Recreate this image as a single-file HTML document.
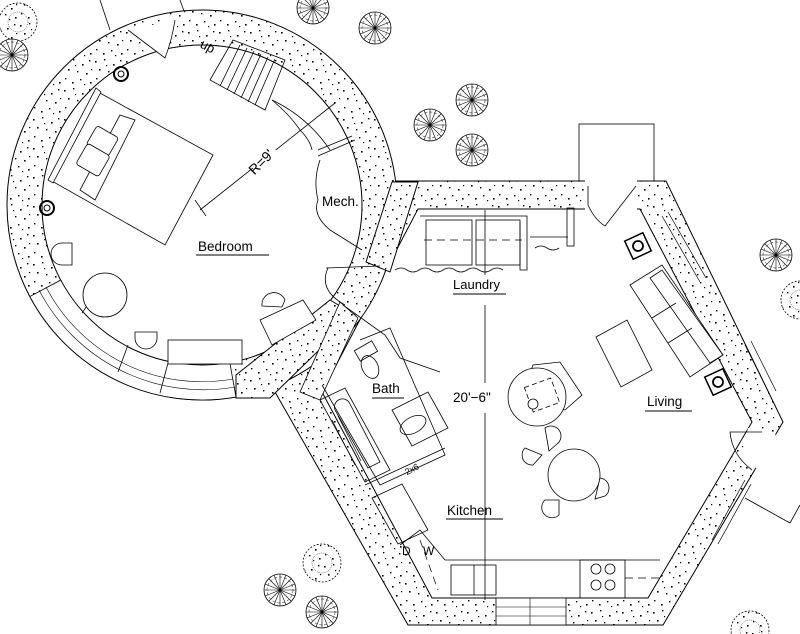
<!DOCTYPE html>
<html><head><meta charset="utf-8"><style>
html,body{margin:0;padding:0;background:#fff;}
svg{display:block;}
text{font-family:"Liberation Sans",sans-serif;fill:#000;}
</style></head><body>
<svg width="800" height="634" viewBox="0 0 800 634" xmlns="http://www.w3.org/2000/svg">
<defs>
<pattern id="d" width="31" height="29" patternUnits="userSpaceOnUse">
<rect width="31" height="29" fill="#fff"/>
<g fill="#000">
<rect x="2" y="3" width="1.6" height="1.6"/><rect x="11" y="1" width="1.4" height="1.4"/><rect x="20" y="6" width="1.6" height="1.6"/>
<rect x="27" y="2" width="1.4" height="1.4"/><rect x="6" y="11" width="1.6" height="1.6"/><rect x="15" y="13" width="1.4" height="1.4"/>
<rect x="24" y="15" width="1.6" height="1.6"/><rect x="3" y="20" width="1.4" height="1.4"/><rect x="10" y="24" width="1.6" height="1.6"/>
<rect x="18" y="21" width="1.4" height="1.4"/><rect x="28" y="24" width="1.6" height="1.6"/><rect x="13" y="7" width="1.2" height="1.2"/>
<rect x="22" y="26" width="1.2" height="1.2"/><rect x="29" y="11" width="1.2" height="1.2"/>
</g></pattern>
<g id="tree"><circle r="16" fill="#fff" stroke="#000" stroke-width="0.8"/><g stroke="#000" stroke-width="0.6">
<line x1="-16" y1="0" x2="16" y2="0"/><line x1="0" y1="-16" x2="0" y2="16"/><line x1="-11" y1="-11" x2="11" y2="11"/><line x1="-11" y1="11" x2="11" y2="-11"/>
<line x1="-6" y1="-15" x2="6" y2="15"/><line x1="-15" y1="-6" x2="15" y2="6"/><line x1="-15" y1="6" x2="15" y2="-6"/><line x1="-6" y1="15" x2="6" y2="-15"/></g>
<circle r="13" fill="none" stroke="#000" stroke-width="0.5" stroke-dasharray="3 2"/></g>
<g id="bush"><circle r="19" fill="url(#d)" stroke="#000" stroke-width="0.8" stroke-dasharray="2 1.5"/><circle r="10" fill="url(#d)" stroke="#000" stroke-width="0.5" stroke-dasharray="1 1"/></g>
</defs>

<g stroke="#000" stroke-width="0.8" fill="none">
<line x1="100" y1="0" x2="110" y2="30"/><line x1="180" y1="0" x2="185" y2="14"/>
<rect x="579" y="124" width="75" height="57"/>
<line x1="745" y1="498" x2="790" y2="523"/><line x1="790" y1="523" x2="800" y2="505"/>
</g>

<use href="#bush" x="18" y="22"/><use href="#tree" x="12" y="55"/>
<use href="#tree" x="313" y="8"/><use href="#tree" x="375" y="28"/>
<use href="#tree" x="472" y="100"/><use href="#tree" x="430" y="125"/><use href="#tree" x="472" y="150"/>
<use href="#tree" x="776" y="255"/><use href="#bush" x="800" y="300"/>
<use href="#bush" x="322" y="563"/><use href="#tree" x="280" y="590"/><use href="#tree" x="322" y="612"/>
<use href="#bush" x="750" y="630"/>

<!-- hexagon walls -->
<polygon points="380,181 666,181 783,422 663,625 408,625 275,392" fill="url(#d)" stroke="#000" stroke-width="1"/>
<polygon points="418,209 640,209 752,422 648,598 432,598 322,392" fill="#fff" stroke="#000" stroke-width="1"/>
<g stroke="#000" stroke-width="0.7" fill="none">
<line x1="662" y1="216" x2="700" y2="282"/><line x1="668" y1="212" x2="706" y2="278"/>
<line x1="745" y1="345" x2="770" y2="395"/><line x1="751" y1="341" x2="776" y2="391"/>
<line x1="712" y1="540" x2="745" y2="480"/><line x1="718" y1="544" x2="751" y2="484"/>
<line x1="332" y1="420" x2="355" y2="465"/><line x1="338" y1="416" x2="361" y2="461"/>
</g>
<g fill="#fff" stroke="#000" stroke-width="0.8">
<rect x="496" y="598" width="70" height="27"/>
</g>
<g stroke="#000" stroke-width="0.6">
<line x1="496" y1="607" x2="566" y2="607"/><line x1="496" y1="616" x2="566" y2="616"/><line x1="530" y1="598" x2="530" y2="625"/>
</g>
<rect x="585" y="180" width="52" height="30" fill="#fff"/>
<path d="M588,186 L588,205 Q595,220 605,226" fill="none" stroke="#000" stroke-width="0.8"/>
<line x1="605" y1="226" x2="636" y2="186" stroke="#000" stroke-width="0.8"/>
<polygon points="748,428 775,432 778,455 760,470 740,460" fill="#fff"/>
<path d="M762,432 L730,432 Q732,455 752,470" fill="none" stroke="#000" stroke-width="0.8"/>

<!-- circle ring -->
<circle cx="202" cy="205" r="195" fill="url(#d)" stroke="#000" stroke-width="1"/>
<circle cx="202" cy="205" r="160" fill="#fff" stroke="#000" stroke-width="1"/>
<path d="M236,397 A195,195 0 0 1 29.8,296.5 L60.7,280.1 A160,160 0 0 0 229.8,362.6 Z" fill="#fff" stroke="#000" stroke-width="0.8"/>
<path d="M235,387 A185,185 0 0 1 39,290" fill="none" stroke="#000" stroke-width="0.6"/>
<path d="M233,379 A176,176 0 0 1 46,287" fill="none" stroke="#000" stroke-width="0.6"/>
<g stroke="#000" stroke-width="0.8"><line x1="82" y1="313" x2="98" y2="290"/><line x1="160" y1="393" x2="168" y2="363"/><line x1="118" y1="372" x2="128" y2="345"/></g>
<path d="M128,30 L165,58 Q172,40 175,20" fill="#fff" stroke="#000" stroke-width="0.8"/>

<polygon points="330,300 355,315 270,398 236,398 236,375" fill="url(#d)" stroke="#000" stroke-width="1"/>
<polygon points="340,302 358,318 320,400 300,392" fill="url(#d)" stroke="#000" stroke-width="0.8"/>
<polygon points="392,182 418,182 390,272 366,262" fill="url(#d)" stroke="#000" stroke-width="1"/>

<g fill="none" stroke="#000" stroke-width="0.8">
<path d="M318,150 L352,136 M318,156 L355,140 M320,160 Q313,180 318,200 Q312,215 330,230 L362,250"/>
<path d="M272,100 Q290,115 300,130 Q310,140 312,150"/>
<path d="M326,268 L380,266"/>
</g>

<g fill="none" stroke="#000" stroke-width="0.8">
<polygon points="233,40 285,60 265,110 210,80"/>
<line x1="240" y1="45" x2="220" y2="86"/><line x1="247" y1="48" x2="227" y2="90"/><line x1="254" y1="51" x2="234" y2="94"/>
<line x1="261" y1="54" x2="241" y2="98"/><line x1="268" y1="57" x2="248" y2="102"/><line x1="275" y1="59" x2="255" y2="105"/>
<path d="M272,100 A145,145 0 0 1 330,150"/>
</g>
<text x="200" y="52" font-size="13" transform="rotate(28 210 48)">up</text>

<g fill="#fff" stroke="#000" stroke-width="0.8">
<polygon points="98,92 213,155 165,245 50,180"/>
<polygon points="96,88 101,92 53,183 48,180"/>
<polygon points="120,115 135,120 95,200 80,190" fill="none"/>
<rect x="90" y="130" width="25" height="22" rx="3" transform="rotate(30 102 141)"/>
<rect x="80" y="148" width="26" height="24" rx="3" transform="rotate(30 93 160)"/>
</g>
<g stroke="#000" stroke-width="0.8"><line x1="200" y1="210" x2="335" y2="103"/><line x1="195" y1="200" x2="206" y2="216"/></g>
<rect x="240" y="150" width="40" height="18" fill="#fff"/>
<text x="245" y="167" font-size="14" transform="rotate(-45 260 160)">R=9'</text>
<g fill="none" stroke="#000"><circle cx="121" cy="74" r="7" stroke-width="2"/><circle cx="121" cy="74" r="3"/><circle cx="47" cy="208" r="7" stroke-width="2"/><circle cx="47" cy="208" r="3"/></g>
<g fill="#fff" stroke="#000" stroke-width="0.8">
<path d="M72,243 L72,265 L62,265 A11,11 0 0 1 62,243 Z"/>
<circle cx="105" cy="295" r="22"/>
<path d="M135,332 L157,332 L157,338 A11,11 0 0 1 135,338 Z"/>
<rect x="168" y="340" width="74" height="24"/>
<path d="M262,306 A12,12 0 0 1 285,300 L282,307 Z"/>
<polygon points="260,320 303,300 316,320 272,345"/>
</g>
<path d="M328,268 Q318,290 345,305" fill="none" stroke="#000" stroke-width="0.8"/>

<g fill="none" stroke="#000" stroke-width="0.8">
<rect x="426" y="220" width="46" height="45"/><rect x="476" y="220" width="44" height="45"/>
<path d="M420,216 L527,216 L527,270 L520,270 L520,222"/>
<line x1="424" y1="240" x2="522" y2="240" stroke-dasharray="8 5"/>
<line x1="530" y1="237" x2="568" y2="237"/><rect x="567" y="208" width="7" height="38"/>
<path d="M395,270 q6,-4 12,0 t12,0 t12,0 t12,0 t12,0 t12,0 t12,0 t12,0 t12,0"/>
<path d="M535,248 q6,-4 12,0 t12,0"/>
</g>
<line x1="485" y1="210" x2="485" y2="600" stroke="#000" stroke-width="0.8"/>
<rect x="440" y="275" width="90" height="30" fill="#fff"/>
<rect x="440" y="383" width="90" height="30" fill="#fff"/>

<g fill="none" stroke="#000" stroke-width="0.8">
<path d="M343,305 L385,335 L400,358 L440,372"/>
<path d="M360,340 L390,328 L445,455 L380,485 L322,385"/>
<rect x="356" y="345" width="20" height="12" transform="rotate(-30 366 351)"/>
<ellipse cx="370" cy="367" rx="8" ry="12" transform="rotate(-25 370 367)"/>
<polygon points="320,400 345,388 390,470 365,482"/>
<path d="M335,410 a8,8 0 0 1 15,-6 L380,462 L368,468 Z"/>
<polygon points="392,410 428,392 448,428 412,446"/>
<ellipse cx="413" cy="425" rx="14" ry="8" transform="rotate(-28 413 425)"/>
<line x1="365" y1="485" x2="445" y2="448"/>
<polygon points="372,498 402,484 428,530 398,544"/>
<path d="M400,545 L420,530 L445,560"/>
</g>
<text x="404" y="472" font-size="9" transform="rotate(-28 412 468)">2x6</text>
<text x="402" y="555" font-size="12">D</text><text x="423" y="555" font-size="12">W</text>
<line x1="420" y1="540" x2="438" y2="590" stroke="#000" stroke-width="0.7" stroke-dasharray="8 5"/>

<g fill="none" stroke="#000" stroke-width="0.8">
<path d="M445,560 L660,560"/>
<rect x="451" y="565" width="45" height="30"/><line x1="474" y1="565" x2="474" y2="595"/>
<rect x="580" y="560" width="45" height="38"/>
<circle cx="596" cy="569" r="5"/><circle cx="610" cy="569" r="5"/><circle cx="596" cy="585" r="5"/><circle cx="610" cy="585" r="5"/>
<line x1="625" y1="578" x2="660" y2="578" stroke-dasharray="8 5"/>
</g>

<g fill="#fff" stroke="#000" stroke-width="0.8">
<polygon points="533,365 560,362 582,395 565,410 520,400"/>
<circle cx="537" cy="397" r="29"/>
<rect x="528" y="382" width="28" height="26" fill="none" stroke-dasharray="5 3" transform="rotate(-20 542 395)"/>
<circle cx="533" cy="404" r="5"/>
<circle cx="574" cy="475" r="26"/>
<path d="M545,428 a10,10 0 0 1 12,16 L549,451 Z"/>
<path d="M525,448 a10,10 0 0 0 8,17 L542,455 Z"/>
<path d="M600,478 a10,10 0 0 1 5,18 L595,499 Z"/>
<path d="M545,500 a10,10 0 0 0 14,15 L559,500 Z"/>
</g>

<g fill="#fff" stroke="#000" stroke-width="0.8">
<polygon points="596,337 627,320 652,370 621,387"/>
<polygon points="630,285 662,265 723,355 690,377"/>
<polygon points="650,278 662,270 723,355 710,363" fill="none"/>
<line x1="652" y1="318" x2="676" y2="303"/><line x1="668" y1="343" x2="692" y2="328"/>
<rect x="628" y="236" width="20" height="20" stroke-width="1.5" transform="rotate(-25 638 246)"/>
<circle cx="638" cy="246" r="5" stroke-width="1.8"/>
<rect x="708" y="372" width="20" height="20" stroke-width="1.5" transform="rotate(-25 718 382)"/>
<circle cx="718" cy="382" r="5" stroke-width="1.8"/>
</g>

<g font-size="13.5">
<text x="322" y="206">Mech.</text>
<text x="198" y="251">Bedroom</text><line x1="196" y1="255" x2="269" y2="255" stroke="#000"/>
<text x="453" y="289" font-size="13">Laundry</text><line x1="453" y1="294" x2="506" y2="294" stroke="#000"/>
<text x="372" y="393">Bath</text><line x1="372" y1="398" x2="404" y2="398" stroke="#000"/>
<text x="453" y="402">20'−6"</text>
<text x="647" y="406">Living</text><line x1="645" y1="411" x2="692" y2="411" stroke="#000"/>
<text x="447" y="515">Kitchen</text><line x1="446" y1="519" x2="503" y2="519" stroke="#000"/>
</g>
</svg>
</body></html>
